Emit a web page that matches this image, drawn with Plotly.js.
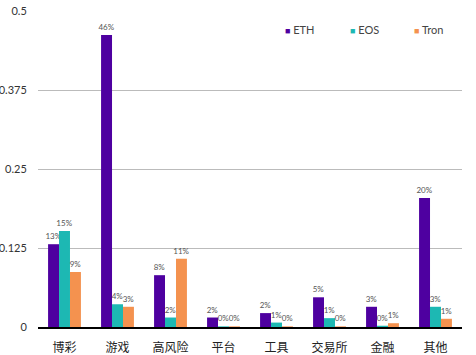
<!DOCTYPE html>
<html><head><meta charset="utf-8">
<script src="https://cdn.plot.ly/plotly-3.0.1.min.js"></script>
<style>html,body{margin:0;padding:0;background:#fff}#c{width:476px;height:355px}</style>
</head><body><div id="c"></div>
<script>
const categories = ['博彩','游戏','高风险','平台','工具','交易所','金融','其他'];
const ethValues  = [0.131, 0.462, 0.082, 0.015, 0.022, 0.047, 0.032, 0.204];
const eosValues  = [0.152, 0.036, 0.015, 0.001, 0.007, 0.014, 0.002, 0.032];
const tronValues = [0.087, 0.032, 0.108, 0.001, 0.001, 0.001, 0.006, 0.013];
const tickVals = [0, 0.125, 0.25, 0.375, 0.5];
const tickText = ['0', '0.125', '0.25', '0.375', '0.5'];

const seriesNames = ['ETH', 'EOS', 'Tron'];
const seriesColors = ['#4E00A0', '#1DB8B3', '#F4924F'];
const seriesData = [ethValues, eosValues, tronValues];

const traces = seriesData.map((vals, i) => ({
  type: 'bar', name: seriesNames[i], x: categories, y: vals,
  marker: {color: seriesColors[i]},
  texttemplate: '%{y:.0%}', textposition: 'outside', cliponaxis: false,
  constraintext: 'none',
  textfont: {size: 8, color: '#555', family: 'Lato, sans-serif'},
  hoverinfo: 'none', showlegend: false
}));

const legendX = [0.578, 0.73, 0.883];
const annotations = seriesNames.map((n, i) => ({
  xref: 'paper', yref: 'paper', x: legendX[i], y: 0.94, xanchor: 'left', yanchor: 'middle',
  showarrow: false,
  text: '<span style="color:' + seriesColors[i] + ';font-size:9px">■</span> ' + n,
  font: {size: 11, color: '#444', family: 'Lato, sans-serif'}
}));

Plotly.newPlot('c', traces, {
  width: 476, height: 355,
  margin: {l: 38, r: 14, t: 11, b: 28},
  barmode: 'group', bargap: 0.38, bargroupgap: 0,
  paper_bgcolor: '#fff', plot_bgcolor: '#fff',
  font: {family: 'Lato, "Noto Sans CJK SC", sans-serif', color: '#333'},
  showlegend: false,
  annotations: annotations,
  xaxis: {tickfont: {size: 12, color: '#222', family: '"Noto Sans CJK SC", sans-serif'},
    showline: true, linecolor: '#000', linewidth: 1.5,
    ticks: 'outside', ticklen: 9, tickcolor: 'rgba(0,0,0,0)', fixedrange: true},
  yaxis: {range: [0, 0.5], tickvals: tickVals, ticktext: tickText,
    tickfont: {size: 11, color: '#333'}, gridcolor: '#bbb', gridwidth: 1,
    zeroline: false, showline: false,
    ticks: 'outside', ticklen: 8, tickcolor: 'rgba(0,0,0,0)', fixedrange: true}
}, {displayModeBar: false, staticPlot: true});
</script></body></html>
